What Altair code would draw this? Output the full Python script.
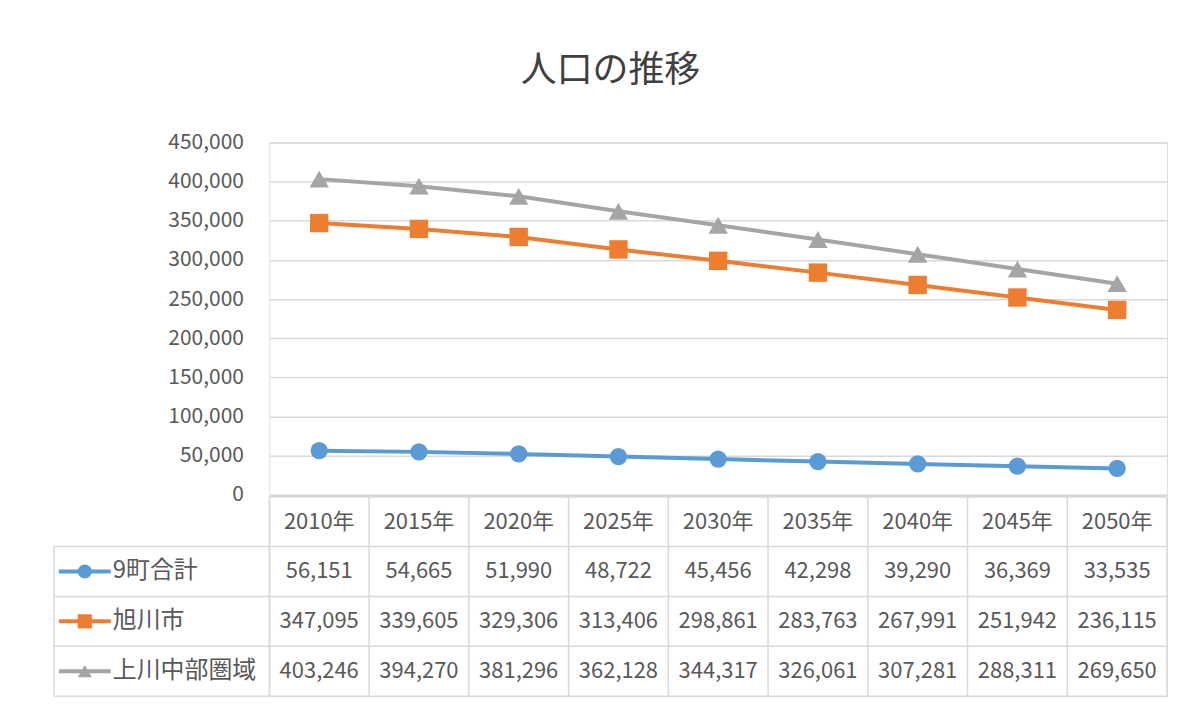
import altair as alt
import pandas as pd

# ---- data ----
years = ["2010年", "2015年", "2020年", "2025年", "2030年", "2035年", "2040年", "2045年", "2050年"]
series_names = ["9町合計", "旭川市", "上川中部圏域"]
town9_total = [56151, 54665, 51990, 48722, 45456, 42298, 39290, 36369, 33535]
asahikawa = [347095, 339605, 329306, 313406, 298861, 283763, 267991, 251942, 236115]
kamikawa_central = [403246, 394270, 381296, 362128, 344317, 326061, 307281, 288311, 269650]
y_tick_values = [0, 50000, 100000, 150000, 200000, 250000, 300000, 350000, 400000, 450000]
title_text = "人口の推移"

colors = ["#5B9BD5", "#ED7D31", "#A5A5A5"]
shapes = ["circle", "square", "triangle-up"]
marker_sizes = [300, 380, 260]

FONT = "Noto Sans CJK JP"
TXT = "#595959"
GRID = "#D9D9D9"

series_values = [town9_total, asahikawa, kamikawa_central]

rows = []
for s_idx, (name, vals) in enumerate(zip(series_names, series_values)):
    for y_idx, (yr, v) in enumerate(zip(years, vals)):
        rows.append({"series": name, "year": yr, "value": v})
df = pd.DataFrame(rows)

color_scale = alt.Scale(domain=series_names, range=colors)
shape_scale = alt.Scale(domain=series_names, range=shapes)
size_scale = alt.Scale(domain=series_names, range=marker_sizes)

W = 900
x_enc = alt.X("year:N", sort=years, scale=alt.Scale(type="point", padding=0.5), axis=None)
y_enc = alt.Y("value:Q", scale=alt.Scale(domain=[0, 450000], nice=False),
              axis=alt.Axis(values=y_tick_values, format=",.0f", grid=True, domain=False,
                            ticks=False, labelPadding=26, labelFontSize=21,
                            labelColor=TXT, labelFont=FONT, gridColor=GRID,
                            gridWidth=1.5, title=None))

lines = alt.Chart(df).mark_line(strokeWidth=4).encode(
    x=x_enc, y=y_enc,
    color=alt.Color("series:N", scale=color_scale, legend=None),
    detail="series:N",
)
points = alt.Chart(df).mark_point(filled=True, opacity=1).encode(
    x=x_enc, y=y_enc,
    color=alt.Color("series:N", scale=color_scale, legend=None),
    shape=alt.Shape("series:N", scale=shape_scale, legend=None),
    size=alt.Size("series:N", scale=size_scale, legend=None),
)
line_chart = alt.layer(lines, points).properties(width=W, height=353)

# ---- data table ----
n = len(years)
n_rows = len(series_names) + 1
label_w = 2.16

cells = []
for c, yr in enumerate(years):
    cells.append({"x": c + 0.5, "y": 0.5, "text": yr})
for r, (name, vals) in enumerate(zip(series_names, series_values)):
    for c, v in enumerate(vals):
        cells.append({"x": c + 0.5, "y": r + 1.5, "text": f"{v:,}"})
cells_df = pd.DataFrame(cells)

rules = []
for c in range(n + 1):
    rules.append({"x": c, "x2": c, "y": 0, "y2": n_rows})
rules.append({"x": -label_w, "x2": -label_w, "y": 1, "y2": n_rows})
rules.append({"x": 0, "x2": n, "y": 0, "y2": 0})
for r in range(1, n_rows + 1):
    rules.append({"x": -label_w, "x2": n, "y": r, "y2": r})
rules_df = pd.DataFrame(rules)

keys = []
for r, name in enumerate(series_names):
    keys.append({"series": name, "x": -label_w + 0.05, "x2": -label_w + 0.57,
                 "xm": -label_w + 0.31, "xt": -label_w + 0.59, "y": r + 1.5})
keys_df = pd.DataFrame(keys)

tx = alt.Scale(domain=[0, n], nice=False, zero=False)
ty = alt.Scale(domain=[0, n_rows], nice=False, reverse=True, zero=False)

table_rules = alt.Chart(rules_df).mark_rule(color=GRID, strokeWidth=1.5).encode(
    x=alt.X("x:Q", scale=tx, axis=None), x2="x2:Q",
    y=alt.Y("y:Q", scale=ty, axis=None), y2="y2:Q",
)
table_text = alt.Chart(cells_df).mark_text(fontSize=22, font=FONT, color=TXT).encode(
    x=alt.X("x:Q", scale=tx, axis=None),
    y=alt.Y("y:Q", scale=ty, axis=None),
    text="text:N",
)
key_lines = alt.Chart(keys_df).mark_rule(strokeWidth=4).encode(
    x=alt.X("x:Q", scale=tx, axis=None), x2="x2:Q",
    y=alt.Y("y:Q", scale=ty, axis=None),
    color=alt.Color("series:N", scale=color_scale, legend=None),
)
key_points = alt.Chart(keys_df).mark_point(filled=True, opacity=1, size=200).encode(
    x=alt.X("xm:Q", scale=tx, axis=None),
    y=alt.Y("y:Q", scale=ty, axis=None),
    color=alt.Color("series:N", scale=color_scale, legend=None),
    shape=alt.Shape("series:N", scale=shape_scale, legend=None),
)
key_text = alt.Chart(keys_df).mark_text(fontSize=24, font=FONT, color=TXT, align="left").encode(
    x=alt.X("xt:Q", scale=tx, axis=None),
    y=alt.Y("y:Q", scale=ty, axis=None),
    text="series:N",
)
table = alt.layer(table_rules, table_text, key_lines, key_points, key_text).properties(
    width=W, height=200
)

chart = alt.vconcat(line_chart, table, spacing=2, bounds="flush").resolve_scale(
    x="independent", y="independent", color="shared", shape="shared"
).properties(
    title=alt.TitleParams(title_text, fontSize=36, font=FONT, color="#404040",
                          fontWeight="normal", anchor="middle", offset=41),
    padding={"left": 44, "top": 44, "right": 10, "bottom": 5},
).configure_view(stroke=None).configure(background="white")

chart.save("out.html", embed_options={"renderer": "svg", "actions": False})
